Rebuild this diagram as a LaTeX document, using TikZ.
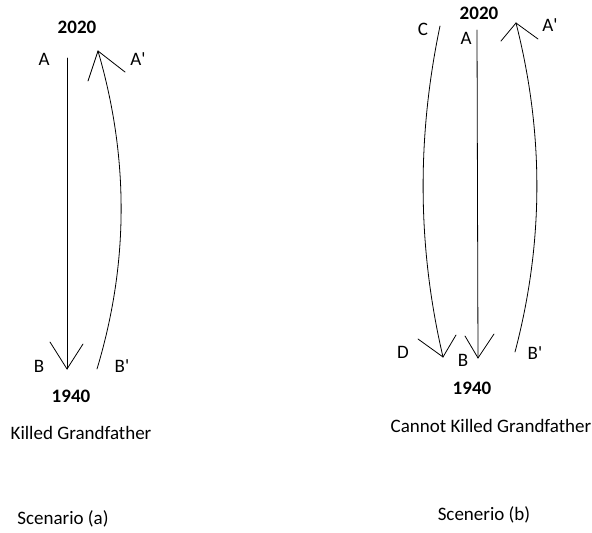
\documentclass[tikz,border=0pt]{standalone}
\usepackage{fontspec}
\setmainfont{Carlito}[Ligatures=TeXReset]
\usetikzlibrary{positioning}

\tikzset{
  txt/.style={inner sep=0pt, font=\fontsize{19}{22}\selectfont},
  yr/.style={txt, font=\fontsize{19}{22}\selectfont\bfseries},
  wl/.style={line width=0.8pt, line cap=round},
  barb/.style={line width=0.8pt, line cap=round}
}

\begin{document}
\begin{tikzpicture}[x=1pt, y=-1pt]
    \useasboundingbox (0,0) rectangle (592,533);

    % Scenario (a)
    \node[yr] (yeara) at (77,27) {2020};
    \node[txt] (la) at (44,59) {A};
    \node[txt] (lap) at (138,59) {A'};
    \node[txt] (lb) at (39,366) {B};
    \node[txt] (lbp) at (122,366) {B'};
    \node[yr] (lowa) at (71,396) {1940};
    \node[txt] (killa) at (81,433) {Killed Grandfather};
    \node[txt] (scena) at (63,519) {Scenario (a)};

    \coordinate (topA) at (67,58);
    \coordinate (tipA) at (67,369);
    \coordinate (startAp) at (97,369);
    \coordinate (tipAp) at (98,51);

    \draw[wl] (topA) -- (tipA);
    \draw[barb] (tipA) -- (50,342);
    \draw[barb] (tipA) -- (83,344);

    \draw[wl] (startAp) .. controls (129,263) and (129,157) .. (tipAp);
    \draw[barb] (tipAp) -- (88,81);
    \draw[barb] (tipAp) -- (125,72);

    % Scenerio (b)
    \node[yr] (yearb) at (479,13) {2020};
    \node[txt] (lc) at (423,29) {C};
    \node[txt] (la2) at (466,38) {A};
    \node[txt] (lap2) at (550,25) {A'};
    \node[txt] (ld) at (403,352) {D};
    \node[txt] (lb2) at (463,360) {B};
    \node[txt] (lbp2) at (535,353) {B'};
    \node[yr] (lowb) at (472,388) {1940};
    \node[txt] (killb) at (491,426) {Cannot Killed Grandfather};
    \node[txt] (scenb) at (484,515) {Scenerio (b)};

    \coordinate (topB) at (477,30);
    \coordinate (tipB) at (478,358);
    \coordinate (startC) at (440,26);
    \coordinate (tipD) at (443,357);
    \coordinate (startBp) at (515,352);
    \coordinate (tipAp2) at (516,23);

    \draw[wl] (topB) -- (tipB);
    \draw[barb] (tipB) -- (465,336);
    \draw[barb] (tipB) -- (494,334);

    \draw[wl] (startC) .. controls (417,136) and (417,246) .. (tipD);
    \draw[barb] (tipD) -- (418,339);
    \draw[barb] (tipD) -- (456,335);

    \draw[wl] (startBp) .. controls (544,242) and (544,133) .. (tipAp2);
    \draw[barb] (tipAp2) -- (501,41);
    \draw[barb] (tipAp2) -- (538,39);
\end{tikzpicture}
\end{document}
